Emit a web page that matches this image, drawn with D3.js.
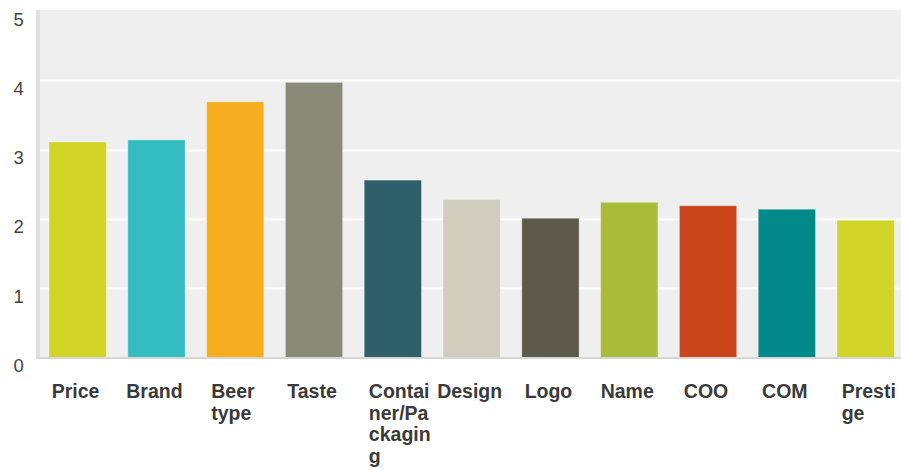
<!DOCTYPE html>
<html>
<head>
<meta charset="utf-8">
<script src="https://cdn.jsdelivr.net/npm/d3@7/dist/d3.min.js"></script>
<style>
  html, body { margin: 0; padding: 0; background: #ffffff; }
  svg { display: block; }
</style>
</head>
<body>
<svg id="chart" width="901" height="470"></svg>
<script>
const categories = ["Price", "Brand", "Beer type", "Taste", "Container/Packaging", "Design", "Logo", "Name", "COO", "COM", "Prestige"];
const values = [3.11, 3.14, 3.69, 3.97, 2.56, 2.28, 2.01, 2.24, 2.19, 2.14, 1.98];
const colors = ["#cfd427", "#33bdc0", "#f6ae20", "#898a78", "#2e5f6b", "#cfcdbd", "#5c5a4a", "#a9bc3a", "#c9461b", "#028a8a", "#cfd427"];
const tickLabels = [["Price"], ["Brand"], ["Beer", "type"], ["Taste"], ["Contai", "ner/Pa", "ckagin", "g"], ["Design"], ["Logo"], ["Name"], ["COO"], ["COM"], ["Presti", "ge"]];
const yTicks = [0, 1, 2, 3, 4, 5];

const svg = d3.select("#chart");
const plotLeft = 40, plotRight = 901, plotTop = 11, plotBottom = 357.5;

const x = d3.scaleBand().domain(categories).range([40, 903.3]).paddingInner(0.273).paddingOuter(0.114);
const y = d3.scaleLinear().domain([0, 5]).range([plotBottom, plotTop]);

// plot background
svg.append("rect").attr("x", plotLeft).attr("y", 10).attr("width", plotRight - plotLeft).attr("height", plotBottom - 10)
  .attr("fill", "#efefef");
// left band
svg.append("rect").attr("x", 36).attr("y", 10).attr("width", 4).attr("height", plotBottom - 10 + 1)
  .attr("fill", "#e0e0e0");

// gridlines
svg.append("g").selectAll("line").data(yTicks.filter(d => d > 0 && d < 5)).join("line")
  .attr("x1", plotLeft).attr("x2", plotRight)
  .attr("y1", d => Math.round(y(d)) + 0.5).attr("y2", d => Math.round(y(d)) + 0.5)
  .attr("stroke", "#ffffff").attr("stroke-width", 2);

// bars
svg.append("g").selectAll("rect").data(categories).join("rect")
  .attr("x", d => x(d))
  .attr("y", (d, i) => y(values[i]))
  .attr("width", x.bandwidth())
  .attr("height", (d, i) => y(0) - y(values[i]))
  .attr("fill", (d, i) => colors[i])
  .attr("stroke", "rgba(255,255,255,0.35)")
  .attr("stroke-width", 1);

// baseline
svg.append("line").attr("x1", 36).attr("x2", plotRight).attr("y1", plotBottom + 0.5).attr("y2", plotBottom + 0.5)
  .attr("stroke", "#d6d6d6").attr("stroke-width", 2);

// y labels
svg.append("g").selectAll("text").data(yTicks).join("text")
  .attr("x", 13.5)
  .attr("y", d => y(d) + 14.5)
  .attr("font-family", "'Liberation Sans', Arial, sans-serif")
  .attr("font-size", 18.5)
  .attr("fill", "#444444")
  .text(d => d);

// x labels
const xl = svg.append("g");
categories.forEach((c, i) => {
  const lines = tickLabels[i];
  const cx = x(c) + x.bandwidth() / 2;
  const t = xl.append("text")
    .attr("font-family", "'Liberation Sans', Arial, sans-serif")
    .attr("font-size", 19.5)
    .attr("font-weight", "bold")
    .attr("fill", "#3a3a3a")
    .attr("text-anchor", lines.length > 1 ? "start" : "middle");
  lines.forEach((ln, j) => {
    t.append("tspan")
      .attr("x", lines.length > 1 ? cx - 24 : cx - 2)
      .attr("y", 397.7 + j * 21.8)
      .text(ln);
  });
});
</script>
</body>
</html>
